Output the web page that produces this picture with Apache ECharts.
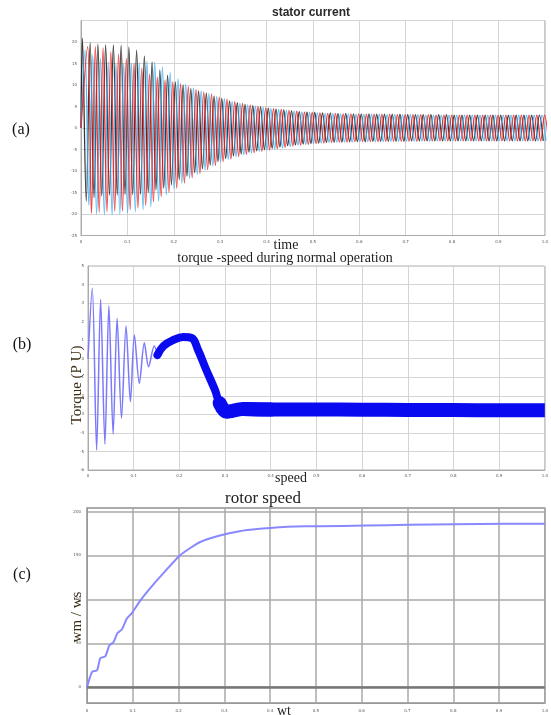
<!DOCTYPE html>
<html>
<head>
<meta charset="utf-8">
<title>motor start</title>
<style>
html, body { margin: 0; padding: 0; background: #fff; }
#main { width: 551px; height: 715px; }
</style>
<script src="https://cdn.jsdelivr.net/npm/echarts@6/dist/echarts.min.js"></script>
</head>
<body>
<div id="main"></div>
<script>
// ---- (a) stator current : peak / trough of every cycle
var cyclePeriod = 0.0167;
var phaseStart = [0.003, 0.0086, 0.0142];   // black, blue, red
var blackUp = [20.9, 19.8, 19.5, 19.3, 19.3, 19.2, 18.8, 18.1, 16.7, 15.4, 13.5, 12.3, 10.7,
  10.0, 9.2, 8.6, 8.1, 7.4, 6.9, 6.3, 5.9, 5.5, 5.2, 4.9, 4.6, 4.4, 4.2, 4.0, 3.8, 3.7, 3.6,
  3.5, 3.5, 3.4, 3.4, 3.3, 3.3, 3.3, 3.2, 3.2, 3.2, 3.2, 3.1, 3.1, 3.1, 3.1, 3.1, 3.1,
  3.0, 3.0, 3.0, 3.0, 3.0, 3.0, 3.0, 3.0, 3.0, 3.0, 3.0, 3.0];
var blackLow = [-17.0, -16.2, -15.8, -15.6, -15.6, -15.5, -15.5, -15.4, -15.0, -14.4, -14.0, -13.2, -12.0,
  -11.2, -10.4, -9.5, -8.6, -7.8, -7.1, -6.5, -6.0, -5.6, -5.3, -5.0, -4.7, -4.4, -4.1, -3.9, -3.7, -3.6, -3.5,
  -3.4, -3.3, -3.3, -3.2, -3.2, -3.2, -3.1, -3.1, -3.1, -3.1, -3.1, -3.0, -3.0, -3.0, -3.0, -3.0, -3.0,
  -3.0, -3.0, -3.0, -3.0, -3.0, -3.0, -3.0, -3.0, -3.0, -3.0, -3.0, -3.0];
var blueUp = [18.1, 17.0, 16.2, 15.4, 15.0, 15.0, 15.0, 15.2, 15.5, 15.3, 14.2, 13.0, 11.5,
  10.2, 9.3, 8.6, 8.0, 7.3, 6.8, 6.2, 5.8, 5.4, 5.1, 4.8, 4.5, 4.3, 4.1, 3.9, 3.7, 3.6, 3.5,
  3.4, 3.4, 3.3, 3.3, 3.2, 3.2, 3.2, 3.2, 3.1, 3.1, 3.1, 3.1, 3.1, 3.0, 3.0, 3.0, 3.0,
  3.0, 3.0, 3.0, 3.0, 3.0, 3.0, 3.0, 3.0, 3.0, 3.0, 3.0, 3.0];
var blueLow = [-18.0, -20.0, -20.2, -20.2, -20.0, -19.8, -19.5, -19.0, -18.3, -17.0, -15.6, -14.2, -12.9,
  -11.7, -10.8, -9.8, -8.8, -7.9, -7.3, -6.7, -6.2, -5.8, -5.4, -5.1, -4.9, -4.6, -4.3, -4.0, -3.8, -3.6, -3.5,
  -3.4, -3.3, -3.3, -3.3, -3.2, -3.2, -3.2, -3.2, -3.1, -3.1, -3.1, -3.1, -3.1, -3.1, -3.0, -3.0, -3.0,
  -3.0, -3.0, -3.0, -3.0, -3.0, -3.0, -3.0, -3.0, -3.0, -3.0, -3.0, -3.0];
var redUp = [18.9, 18.9, 18.6, 17.7, 17.2, 16.2, 15.0, 13.9, 12.5, 11.8, 11.2, 10.8, 10.3,
  9.7, 9.0, 8.4, 7.9, 7.2, 6.7, 6.1, 5.7, 5.3, 5.0, 4.7, 4.5, 4.3, 4.1, 3.9, 3.7, 3.6, 3.5,
  3.4, 3.4, 3.3, 3.3, 3.3, 3.2, 3.2, 3.2, 3.2, 3.1, 3.1, 3.1, 3.1, 3.1, 3.0, 3.0, 3.0,
  3.0, 3.0, 3.0, 3.0, 3.0, 3.0, 3.0, 3.0, 3.0, 3.0, 3.0, 3.0];
var redLow = [-19.8, -19.6, -19.5, -19.3, -19.3, -19.0, -18.6, -18.0, -17.2, -16.0, -15.0, -14.0, -12.8,
  -11.6, -10.6, -9.7, -8.7, -7.8, -7.2, -6.6, -6.1, -5.7, -5.4, -5.1, -4.8, -4.5, -4.2, -4.0, -3.8, -3.6, -3.5,
  -3.4, -3.3, -3.3, -3.2, -3.2, -3.2, -3.2, -3.1, -3.1, -3.1, -3.1, -3.1, -3.0, -3.0, -3.0, -3.0, -3.0,
  -3.0, -3.0, -3.0, -3.0, -3.0, -3.0, -3.0, -3.0, -3.0, -3.0, -3.0, -3.0];

// ---- (b) torque
var torqueOscT = [0, 0.0093, 0.0189, 0.0276, 0.037, 0.0457, 0.055, 0.0637, 0.0733, 0.0833, 0.0928, 0.1015, 0.1124, 0.1233, 0.1326, 0.145, 0.152];
var torqueOscV = [0, 3.80, -4.92, 3.20, -4.60, 2.84, -4.06, 2.18, -3.21, 1.76, -2.32, 1.28, -1.33, 0.86, -0.43, 0.68, 0.20];
var torqueHumpT = [0.152, 0.165, 0.187, 0.209, 0.227, 0.241, 0.259, 0.278, 0.288, 0.303];
var torqueHumpV = [0.20, 0.68, 1.01, 1.17, 1.12, 0.47, -0.61, -1.69, -2.39, -2.86];
var torqueKneeT = [0.288, 0.303, 0.339, 0.4];
var torqueKneeV = [-2.39, -2.86, -2.71, -2.74];
var torqueSteadyT = [0.339, 0.4, 0.5, 0.6, 0.7, 0.8, 0.9, 1.0];
var torqueSteadyV = [-2.71, -2.74, -2.74, -2.75, -2.76, -2.77, -2.78, -2.78];

// ---- (c) rotor speed
var speedT = [0, 0.011, 0.022, 0.029, 0.040, 0.049, 0.058, 0.0665, 0.076, 0.087, 0.098, 0.116, 0.134, 0.159,
  0.203, 0.246, 0.29, 0.333, 0.377, 0.42, 0.478, 0.507, 0.609, 0.703, 0.804, 0.913, 1.0];
var speedV = [0, 17.4, 19.3, 33, 35.2, 47.7, 51.5, 61.7, 65.6, 78.1, 84.4, 98.3, 110.2, 125.3,
  150, 165, 172.7, 177.6, 180.3, 182.1, 183.2, 183.2, 184, 184.8, 185.5, 186, 186];

function wave(start, up, low) {
  var pts = [[0, 0]];
  for (var k = 0; k < up.length; k++) {
    pts.push([start + k * cyclePeriod, up[k]]);
    pts.push([start + (k + 0.5) * cyclePeriod, low[k]]);
  }
  return pts;
}
function pairs(t, v) {
  return t.map(function (x, i) { return [x, v[i]]; });
}

var tickFont = { fontSize: 4, color: '#555', fontFamily: 'DejaVu Sans' };

function xAx(idx, grid, lineCol, margin) {
  return {
    type: 'value', gridIndex: grid, min: 0, max: 1, interval: 0.1,
    axisLine: { show: true, onZero: false, lineStyle: { color: lineCol } },
    axisTick: { show: false },
    axisLabel: Object.assign({ margin: margin, formatter: function (v) { return v === 0 ? '0' : v.toFixed(1); } }, tickFont),
    splitLine: { show: true, lineStyle: { color: idx === 2 ? '#a8a8a8' : '#d4d4d4', width: idx === 2 ? 1.5 : 1 } }
  };
}

var chart = echarts.init(document.getElementById('main'));
var option = {
  animation: false,
  backgroundColor: '#fff',
  grid: [
    { left: 81, top: 20.5, width: 467, height: 215, show: true, borderColor: '#b0b0b0', borderWidth: 1 },
    { left: 88, top: 266, width: 460, height: 204, show: true, borderColor: '#b0b0b0', borderWidth: 1 },
    { left: 87, top: 508, width: 460, height: 195, show: true, borderColor: '#999', borderWidth: 1.5 }
  ],
  xAxis: [xAx(0, 0, '#aaa', 4), xAx(1, 1, '#aaa', 4), xAx(2, 2, '#999', 6)],
  yAxis: [
    { type: 'value', gridIndex: 0, min: -25, max: 25, interval: 5,
      axisLine: { show: true, lineStyle: { color: '#aaa' } }, axisTick: { show: false },
      axisLabel: Object.assign({ margin: 4, showMaxLabel: false }, tickFont),
      splitLine: { lineStyle: { color: '#d4d4d4' } } },
    { type: 'value', gridIndex: 1, min: -6, max: 5, interval: 1,
      axisLine: { show: true, lineStyle: { color: '#aaa' } }, axisTick: { show: false },
      axisLabel: Object.assign({ margin: 4 }, tickFont),
      splitLine: { lineStyle: { color: '#d4d4d4' } } },
    { type: 'value', gridIndex: 2, min: -18, max: 204,
      axisLine: { show: true, lineStyle: { color: '#999' } }, axisTick: { show: false },
      axisLabel: Object.assign({ margin: 6, showMinLabel: false, showMaxLabel: false }, tickFont),
      splitLine: { lineStyle: { color: '#a8a8a8', width: 1.5 } } }
  ],
  series: [
    { name: 'ia', type: 'line', xAxisIndex: 0, yAxisIndex: 0, data: wave(phaseStart[0], blackUp, blackLow),
      showSymbol: false, smooth: 0.35, silent: true, lineStyle: { color: '#151515', width: 1.3, opacity: 0.85 } },
    { name: 'ib', type: 'line', xAxisIndex: 0, yAxisIndex: 0, data: wave(phaseStart[1], blueUp, blueLow),
      showSymbol: false, smooth: 0.35, silent: true, lineStyle: { color: '#38aef2', width: 1.3, opacity: 0.85 } },
    { name: 'ic', type: 'line', xAxisIndex: 0, yAxisIndex: 0, data: wave(phaseStart[2], redUp, redLow),
      showSymbol: false, smooth: 0.35, silent: true, lineStyle: { color: '#f01c1c', width: 1.3, opacity: 0.85 } },

    { name: 'torque osc', type: 'line', xAxisIndex: 1, yAxisIndex: 1, data: pairs(torqueOscT, torqueOscV),
      showSymbol: false, smooth: 0.3, silent: true, lineStyle: { color: '#7a7afa', width: 1.5 } },
    { name: 'torque hump', type: 'line', xAxisIndex: 1, yAxisIndex: 1, data: pairs(torqueHumpT, torqueHumpV),
      showSymbol: false, smooth: 0.4, silent: true, lineStyle: { color: '#0a0af0', width: 8, cap: 'round', join: 'round' } },
    { name: 'torque knee', type: 'line', xAxisIndex: 1, yAxisIndex: 1, data: pairs(torqueKneeT, torqueKneeV),
      showSymbol: false, smooth: 0.3, silent: true, lineStyle: { color: '#0a0af0', width: 14, cap: 'round', join: 'round' } },
    { name: 'torque steady', type: 'line', xAxisIndex: 1, yAxisIndex: 1, data: pairs(torqueSteadyT, torqueSteadyV),
      showSymbol: false, smooth: 0.3, silent: true, lineStyle: { color: '#0a0af0', width: 14, cap: 'butt', join: 'round' } },

    { name: 'speed', type: 'line', xAxisIndex: 2, yAxisIndex: 2, data: pairs(speedT, speedV),
      showSymbol: false, smooth: 0.2, silent: true, lineStyle: { color: '#8888ff', width: 2 },
      markLine: { silent: true, symbol: 'none', label: { show: false },
        lineStyle: { color: '#777', width: 2.5, type: 'solid' }, data: [{ yAxis: 0 }] } }
  ],
  graphic: [
    { type: 'text', x: 311, y: 13, style: { text: 'stator current', font: 'bold 12px "Liberation Sans"', fill: '#2a2a2a', textAlign: 'center', textVerticalAlign: 'middle' } },
    { type: 'text', x: 286, y: 245, style: { text: 'time', font: '14px "Liberation Serif"', fill: '#222', textAlign: 'center', textVerticalAlign: 'middle' } },
    { type: 'text', x: 285, y: 258, style: { text: 'torque -speed during normal operation', font: '14px "Liberation Serif"', fill: '#222', textAlign: 'center', textVerticalAlign: 'middle' } },
    { type: 'text', x: 291, y: 478, style: { text: 'speed', font: '14px "Liberation Serif"', fill: '#222', textAlign: 'center', textVerticalAlign: 'middle' } },
    { type: 'text', x: 263, y: 499, style: { text: 'rotor speed', font: '17px "Liberation Serif"', fill: '#222', textAlign: 'center', textVerticalAlign: 'middle' } },
    { type: 'text', x: 284, y: 711, style: { text: 'wt', font: '14px "Liberation Serif"', fill: '#222', textAlign: 'center', textVerticalAlign: 'middle' } },
    { type: 'text', x: 77, y: 385, rotation: Math.PI / 2, style: { text: 'Torque (P U)', font: '15px "Liberation Serif"', fill: '#3a2c14', textAlign: 'center', textVerticalAlign: 'middle' } },
    { type: 'text', x: 77, y: 617, rotation: Math.PI / 2, style: { text: 'wm / ws', font: '15px "Liberation Serif"', fill: '#3a2c14', textAlign: 'center', textVerticalAlign: 'middle' } },
    { type: 'text', x: 21, y: 130, style: { text: '(a)', font: '16px "Liberation Serif"', fill: '#111', textAlign: 'center', textVerticalAlign: 'middle' } },
    { type: 'text', x: 22, y: 345, style: { text: '(b)', font: '16px "Liberation Serif"', fill: '#111', textAlign: 'center', textVerticalAlign: 'middle' } },
    { type: 'text', x: 22, y: 575, style: { text: '(c)', font: '16px "Liberation Serif"', fill: '#111', textAlign: 'center', textVerticalAlign: 'middle' } }
  ]
};
chart.setOption(option);
</script>
</body>
</html>
